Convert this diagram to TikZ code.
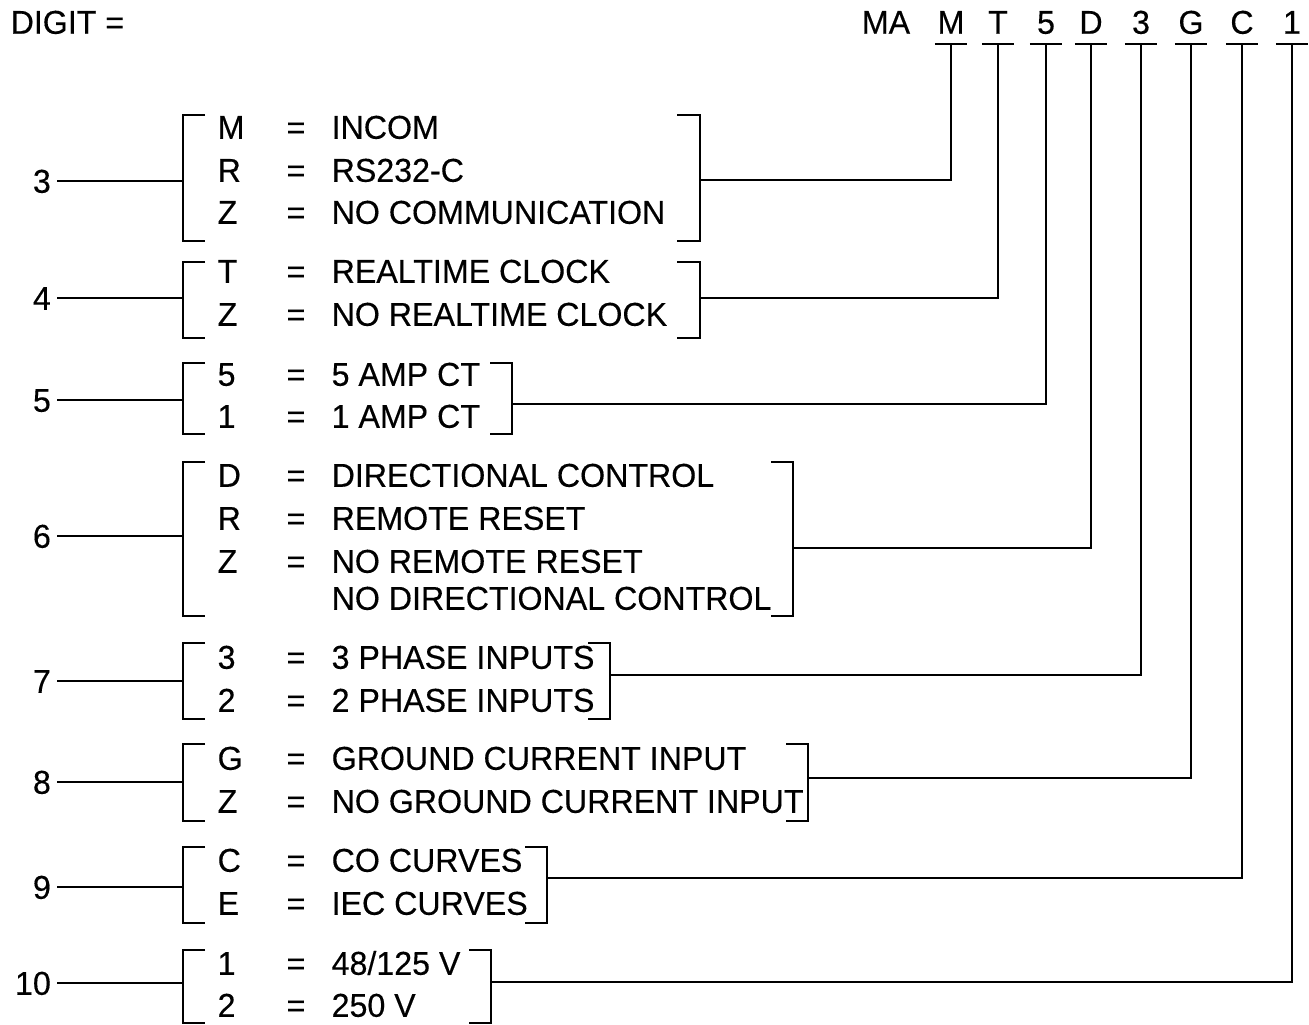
\documentclass[tikz,border=0pt]{standalone}
\usepackage{fontspec}
\setmainfont[FakeStretch=0.975,FakeBold=0.3]{Liberation Sans}
\begin{document}
\begin{tikzpicture}[x=1pt,y=-1pt,line width=1.3pt,
    every node/.style={font=\fontsize{33}{36}\selectfont,inner sep=0pt,
      text height=23.5pt,text depth=0pt},
    code/.style={minimum width=31pt,inner ysep=9.5pt},
    num/.style={anchor=east,inner xsep=5.5pt},
    key/.style={anchor=west},
    desc/.style={anchor=west}]
  \useasboundingbox (0,0) rectangle (1309,1025);

  % model number
  \node[anchor=west] (digit) at (10,22) {DIGIT =};
  \node (cMA) at (886,22) {MA};
  \node[code] (cM) at (951,22) {M};
  \node[code] (cT) at (998,22) {T};
  \node[code] (c5) at (1046,22) {5};
  \node[code] (cD) at (1091,22) {D};
  \node[code] (c3) at (1141,22) {3};
  \node[code] (cG) at (1191,22) {G};
  \node[code] (cC) at (1242,22) {C};
  \node[code] (c1) at (1292,22) {1};
  \foreach \c in {cM,cT,c5,cD,c3,cG,cC,c1}
    \draw (\c.south west) -- (\c.south east);

  % digit 3
  \node[num] (n3) at (57,181) {3};
  \node[key] (k3a) at (217,127) {M}; \node (e3a) at (296,127) {=}; \node[desc] (d3a) at (331,127) {INCOM};
  \node[key] (k3b) at (217,170) {R}; \node (e3b) at (296,170) {=}; \node[desc] (d3b) at (331,170) {RS232-C};
  \node[key] (k3c) at (217,212) {Z}; \node (e3c) at (296,212) {=}; \node[desc] (d3c) at (331,212) {NO COMMUNICATION};
  \draw (205,115) -| (183,241) -- (205,241);
  \draw (677,115) -| (700,241) -- (677,241);
  \coordinate (L3) at (183,181); \coordinate (R3) at (700,180);
  \draw (n3) -- (L3);
  \draw (R3) -| (cM.south);

  % digit 4
  \node[num] (n4) at (57,298) {4};
  \node[key] (k4a) at (217,271) {T}; \node (e4a) at (296,271) {=}; \node[desc] (d4a) at (331,271) {REALTIME CLOCK};
  \node[key] (k4b) at (217,314) {Z}; \node (e4b) at (296,314) {=}; \node[desc] (d4b) at (331,314) {NO REALTIME CLOCK};
  \draw (205,262) -| (183,338) -- (205,338);
  \draw (677,262) -| (700,338) -- (677,338);
  \coordinate (L4) at (183,298); \coordinate (R4) at (700,298);
  \draw (n4) -- (L4);
  \draw (R4) -| (cT.south);

  % digit 5
  \node[num] (n5) at (57,400) {5};
  \node[key] (k5a) at (217,374) {5}; \node (e5a) at (296,374) {=}; \node[desc] (d5a) at (331,374) {5 AMP CT};
  \node[key] (k5b) at (217,416) {1}; \node (e5b) at (296,416) {=}; \node[desc] (d5b) at (331,416) {1 AMP CT};
  \draw (205,363) -| (183,434) -- (205,434);
  \draw (490,363) -| (512,434) -- (490,434);
  \coordinate (L5) at (183,400); \coordinate (R5) at (512,404);
  \draw (n5) -- (L5);
  \draw (R5) -| (c5.south);

  % digit 6
  \node[num] (n6) at (57,536) {6};
  \node[key] (k6a) at (217,475) {D}; \node (e6a) at (296,475) {=}; \node[desc] (d6a) at (331,475) {DIRECTIONAL CONTROL};
  \node[key] (k6b) at (217,518) {R}; \node (e6b) at (296,518) {=}; \node[desc] (d6b) at (331,518) {REMOTE RESET};
  \node[key] (k6c) at (217,561) {Z}; \node (e6c) at (296,561) {=}; \node[desc] (d6c) at (331,561) {NO REMOTE RESET};
  \node[desc] (d6d) at (331,598) {NO DIRECTIONAL CONTROL};
  \draw (205,462) -| (183,616) -- (205,616);
  \draw (771,462) -| (793,616) -- (771,616);
  \coordinate (L6) at (183,536); \coordinate (R6) at (793,548);
  \draw (n6) -- (L6);
  \draw (R6) -| (cD.south);

  % digit 7
  \node[num] (n7) at (57,681) {7};
  \node[key] (k7a) at (217,657) {3}; \node (e7a) at (296,657) {=}; \node[desc] (d7a) at (331,657) {3 PHASE INPUTS};
  \node[key] (k7b) at (217,700) {2}; \node (e7b) at (296,700) {=}; \node[desc] (d7b) at (331,700) {2 PHASE INPUTS};
  \draw (205,643) -| (183,719) -- (205,719);
  \draw (588,643) -| (610,719) -- (588,719);
  \coordinate (L7) at (183,681); \coordinate (R7) at (610,675);
  \draw (n7) -- (L7);
  \draw (R7) -| (c3.south);

  % digit 8
  \node[num] (n8) at (57,782) {8};
  \node[key] (k8a) at (217,758) {G}; \node (e8a) at (296,758) {=}; \node[desc] (d8a) at (331,758) {GROUND CURRENT INPUT};
  \node[key] (k8b) at (217,801) {Z}; \node (e8b) at (296,801) {=}; \node[desc] (d8b) at (331,801) {NO GROUND CURRENT INPUT};
  \draw (205,744) -| (183,821) -- (205,821);
  \draw (786,744) -| (808,821) -- (786,821);
  \coordinate (L8) at (183,782); \coordinate (R8) at (808,778);
  \draw (n8) -- (L8);
  \draw (R8) -| (cG.south);

  % digit 9
  \node[num] (n9) at (57,887) {9};
  \node[key] (k9a) at (217,860) {C}; \node (e9a) at (296,860) {=}; \node[desc] (d9a) at (331,860) {CO CURVES};
  \node[key] (k9b) at (217,903) {E}; \node (e9b) at (296,903) {=}; \node[desc] (d9b) at (331,903) {IEC CURVES};
  \draw (205,847) -| (183,923) -- (205,923);
  \draw (525,847) -| (547,923) -- (525,923);
  \coordinate (L9) at (183,887); \coordinate (R9) at (547,878);
  \draw (n9) -- (L9);
  \draw (R9) -| (cC.south);

  % digit 10
  \node[num] (n10) at (57,983) {10};
  \node[key] (k10a) at (217,963) {1}; \node (e10a) at (296,963) {=}; \node[desc] (d10a) at (331,963) {48/125 V};
  \node[key] (k10b) at (217,1005) {2}; \node (e10b) at (296,1005) {=}; \node[desc] (d10b) at (331,1005) {250 V};
  \draw (205,950) -| (183,1023) -- (205,1023);
  \draw (469,950) -| (491,1023) -- (469,1023);
  \coordinate (L10) at (183,983); \coordinate (R10) at (491,982);
  \draw (n10) -- (L10);
  \draw (R10) -| (c1.south);
\end{tikzpicture}
\end{document}
